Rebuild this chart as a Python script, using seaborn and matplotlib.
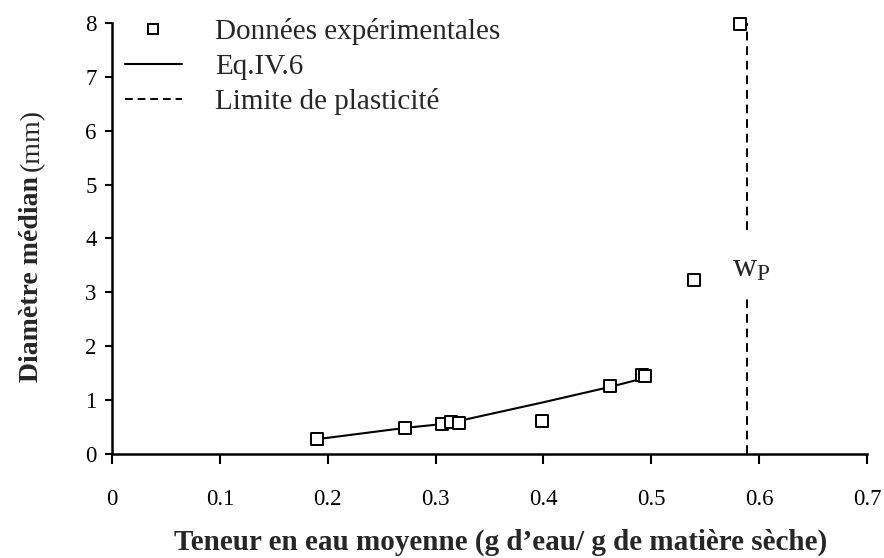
import matplotlib
matplotlib.use("Agg")
import matplotlib.pyplot as plt
from matplotlib.lines import Line2D
import seaborn as sns
import pandas as pd

# Experimental median diameter vs mean water content
exp_x = [0.190, 0.272, 0.306, 0.314, 0.322, 0.399, 0.462, 0.491, 0.494, 0.540, 0.582]
exp_y = [0.28, 0.49, 0.56, 0.60, 0.58, 0.62, 1.27, 1.47, 1.46, 3.23, 7.97]

# Eq.IV.6 model curve
model_x = [0.190, 0.272, 0.306, 0.314, 0.322, 0.399, 0.462, 0.491]
model_y = [0.28, 0.49, 0.56, 0.59, 0.62, 0.96, 1.25, 1.40]

# Plastic limit
wp_x = 0.589
wp_seg_lo = [0.0, 2.94]
wp_seg_hi = [4.15, 8.0]
wp_label_y = 3.46

x_ticks = [0, 0.1, 0.2, 0.3, 0.4, 0.5, 0.6, 0.7]
x_tick_labels = ["0", "0.1", "0.2", "0.3", "0.4", "0.5", "0.6", "0.7"]
y_ticks = [0, 1, 2, 3, 4, 5, 6, 7, 8]

legend_labels = ["Données expérimentales", "Eq.IV.6", "Limite de plasticité"]
x_label = "Teneur en eau moyenne (g d\u2019eau/ g de matière sèche)"
y_label_bold = "Diamètre médian"
y_label_reg = "(mm)"

sns.set_theme(style="ticks")
plt.rcParams["font.family"] = ["Liberation Serif", "DejaVu Serif"]
plt.rcParams["mathtext.fontset"] = "custom"
plt.rcParams["mathtext.rm"] = "Liberation Serif"

W, H = 884, 558
fig = plt.figure(figsize=(W / 100, H / 100), dpi=100)
ax = fig.add_axes([112 / W, 1 - 454.3 / H, 755 / W, (454.3 - 22.7) / H])

exp_df = pd.DataFrame({"w": exp_x, "d": exp_y})
model_df = pd.DataFrame({"w": model_x, "d": model_y})

sns.lineplot(data=model_df, x="w", y="d", ax=ax, color="black", lw=1.5,
             estimator=None, sort=False, zorder=2)
sns.scatterplot(data=exp_df, x="w", y="d", ax=ax, marker="s", s=70,
                facecolor="white", edgecolor="black", linewidth=1.4,
                zorder=3, clip_on=False)

dash = (0, (4.5, 3))
ax.plot([wp_x, wp_x], wp_seg_lo, color="black", lw=1.4, linestyle=dash, zorder=1)
ax.plot([wp_x, wp_x], wp_seg_hi, color="black", lw=1.4, linestyle=dash, zorder=1)
ax.text(wp_x + 0.004, wp_label_y, r"$\mathregular{w_P}$", fontsize=24,
        ha="center", va="center")

ax.set_xlim(0, 0.7)
ax.set_ylim(0, 8)
ax.set_xticks(x_ticks)
ax.set_xticklabels(x_tick_labels)
ax.set_yticks(y_ticks)
ax.tick_params(axis="x", direction="out", length=7, width=1.5, pad=18,
               labelsize=16.5, colors="black")
ax.tick_params(axis="y", direction="out", length=5, width=1.5, pad=6,
               labelsize=16.5, colors="black")
sns.despine(ax=ax)
for side in ("left", "bottom"):
    ax.spines[side].set_linewidth(1.8)
    ax.spines[side].set_color("black")
ax.set_xlabel("")
ax.set_ylabel("")

# Legend
handles = [
    Line2D([], [], marker="s", linestyle="none", markersize=7,
           markerfacecolor="white", markeredgecolor="black", markeredgewidth=1.4),
    Line2D([], [], color="black", lw=1.5),
    Line2D([], [], color="black", lw=1.4, linestyle=(0, (4, 2.5))),
]
fig.legend(handles, legend_labels, loc="upper left",
           bbox_to_anchor=(125 / W, 1 - 18 / H), frameon=False,
           fontsize=21, handlelength=1.95, handletextpad=1.15,
           labelspacing=0.29, borderpad=0, borderaxespad=0)

# Axis titles
fig.text(501 / W, 8 / H, x_label, fontsize=21, fontweight="bold",
         ha="center", va="baseline")

renderer = fig.canvas.get_renderer()
t1 = fig.text(32 / W, 1 - 382 / H, y_label_bold, fontsize=20,
              fontweight="bold", rotation=90, ha="center", va="bottom")
bb = t1.get_window_extent(renderer)
gap = 5
fig.text(32 / W, (bb.y1 + gap) / H, y_label_reg, fontsize=20,
         rotation=90, ha="center", va="bottom")

fig.savefig("out.png", dpi=100)
